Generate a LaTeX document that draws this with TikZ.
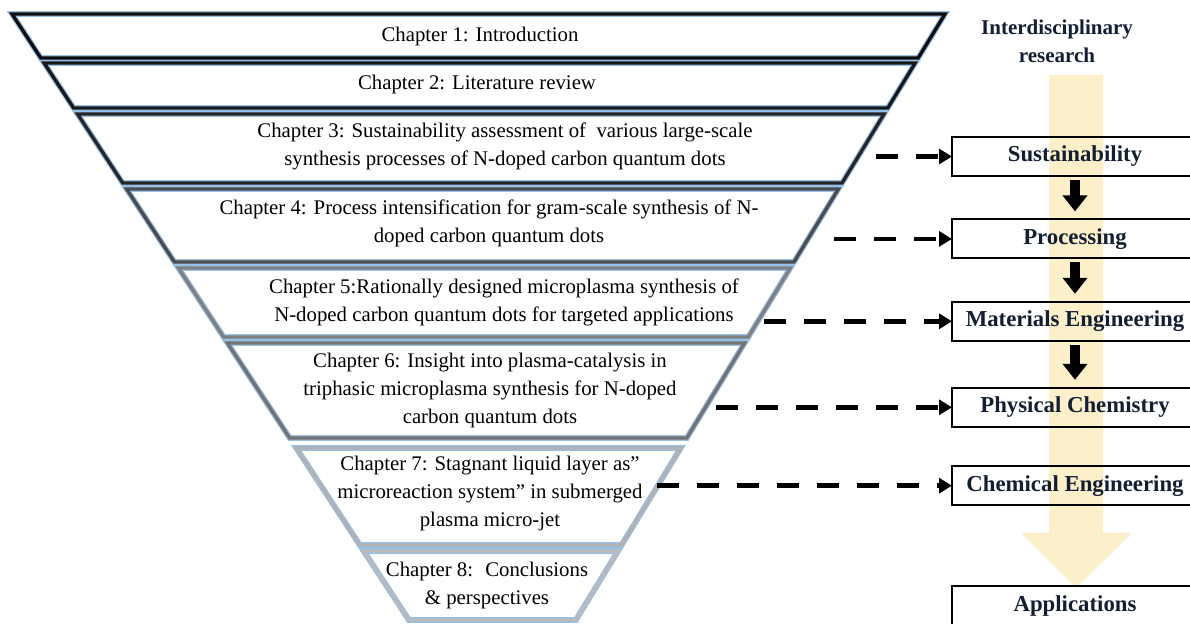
\documentclass[tikz,border=0pt]{standalone}
\usepackage{fontspec}
\setmainfont{Liberation Serif}
\usetikzlibrary{arrows.meta, positioning}

\definecolor{glow}{RGB}{150,192,232}
\definecolor{ink}{RGB}{18,30,50}
\definecolor{amber}{RGB}{252,239,202}

\begin{document}
\begin{tikzpicture}[x=0.5pt, y=-0.5pt, node distance=21pt,
  band/.style={fill=white, draw=glow, line width=0.6pt, double=#1, double distance=1.7pt},
  chap/.style={align=center, font=\fontsize{10.4}{14}\selectfont},
  field/.style={draw, line width=1.1pt, minimum width=123pt, minimum height=19.5pt, inner sep=0pt,
    outer sep=0pt, text=ink, font=\fontsize{11.4}{13}\selectfont\bfseries},
  link/.style={line width=2.3pt, dash pattern=on 11pt off 9pt, -{Triangle[width=7.5pt, length=6.5pt]}},
  down/.style={line width=5pt, shorten <=2pt, shorten >=4pt, -{Triangle[width=12pt, length=8pt]}}]

\useasboundingbox (0,0) rectangle (1190,624);

% the funnel
\draw[band=black!95]   (12,14) -- (945,14) -- (918.2,58) -- (40.8,58) -- cycle;
\draw[band=black!90]   (44.1,63) -- (915.2,63) -- (887.8,108) -- (73.6,108) -- cycle;
\draw[band=black!85]   (77.5,114) -- (884.1,114) -- (842.1,183) -- (122.7,183) -- cycle;
\draw[band=black!70]   (126.6,189) -- (838.4,189) -- (794,262) -- (174.4,262) -- cycle;
\draw[band=black!50]   (178.4,268) -- (790.3,268) -- (748.3,337) -- (223.6,337) -- cycle;
\draw[band=black!55]   (227.5,343) -- (744.6,343) -- (686.8,438) -- (289.7,438) -- cycle;
\draw[band=black!30]   (296.3,448) -- (680.7,448) -- (621.6,545) -- (359.8,545) -- cycle;
\draw[band=black!27]   (363.7,551) -- (618,551) -- (575.9,620) -- (408.9,620) -- cycle;

\node[chap] (ch1) at (480,37)    {Chapter 1: Introduction};
\node[chap] (ch2) at (477,85)    {Chapter 2: Literature review};
\node[chap] (ch3) at (505,146)   {Chapter 3: Sustainability assessment of~ various large-scale\\synthesis processes of N-doped carbon quantum dots};
\node[chap] (ch4) at (489,223)   {Chapter 4: Process intensification for gram-scale synthesis of N-\\doped carbon quantum dots};
\node[chap] (ch5) at (504,302.5) {Chapter 5:Rationally designed microplasma synthesis of\\N-doped carbon quantum dots for targeted applications};
\node[chap] (ch6) at (490,391)   {Chapter 6: Insight into plasma-catalysis in\\triphasic microplasma synthesis for N-doped\\carbon quantum dots};
\node[chap] (ch7) at (490,494)   {Chapter 7: Stagnant liquid layer as”\\microreaction system” in submerged\\plasma micro-jet};
\node[chap] (ch8) at (487,586)   {Chapter 8:~ Conclusions\\\& perspectives};

% research axis
\fill[amber] (1049,75) -- (1103,75) -- (1103,533) -- (1132,533) -- (1076,588) -- (1021,533) -- (1049,533) -- cycle;

\node[align=center, text=ink, font=\fontsize{10.5}{14}\selectfont\bfseries] (title) at (1057,41) {Interdisciplinary\\research};

\node[field] (sust) at (1075,156.5) {Sustainability};
\node[field, below=21.7pt of sust] (proc) {Processing};
\node[field, below=21.7pt of proc] (mat) {Materials Engineering};
\node[field, below=23.5pt of mat] (phys) {Physical Chemistry};
\node[field, below=19.7pt of phys] (chem) {Chemical Engineering};
\node[field, below=40.5pt of chem] (app) {Applications};

\draw[down] (sust) -- (proc);
\draw[down] (proc) -- (mat);
\draw[down] (mat) -- (phys);

\coordinate (c3) at (876,0 |- sust);
\coordinate (c4) at (834,0 |- proc);
\coordinate (c5) at (764,0 |- mat);
\coordinate (c6) at (716,0 |- phys);
\coordinate (c7) at (657,0 |- chem);

\draw[link] (c3) -- (sust);
\draw[link] (c4) -- (proc);
\draw[link] (c5) -- (mat);
\draw[link] (c6) -- (phys);
\draw[link] (c7) -- (chem);

\end{tikzpicture}
\end{document}
